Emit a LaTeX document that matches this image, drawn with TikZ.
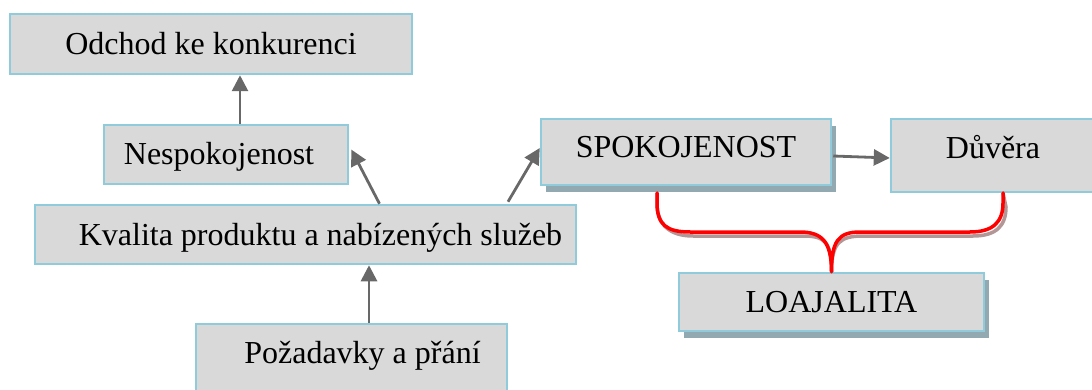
\documentclass[tikz,border=0pt]{standalone}
\usepackage{fontspec}
\setmainfont{Liberation Serif}
\usetikzlibrary{arrows.meta,shadows,calc}
\definecolor{boxfill}{HTML}{D9D9D9}
\definecolor{boxline}{HTML}{8FCBDB}
\definecolor{boxshade}{HTML}{93A9B1}
\definecolor{arrowgray}{HTML}{686868}
\definecolor{braceshade}{HTML}{B39696}
\begin{document}
\begin{tikzpicture}[x=1pt,y=-1pt,
  box/.style={draw=boxline, fill=boxfill, line width=2.5pt, inner sep=0pt,
    font=\fontsize{32}{38}\selectfont, text height=21pt, text depth=0pt},
  shaded/.style={drop shadow={shadow xshift=5pt, shadow yshift=-7pt,
    fill=boxshade, opacity=1}},
  arr/.style={draw=arrowgray, line width=2.8pt,
    -{Triangle[length=16pt,width=16pt]}},
  bracepath/.style={line width=3.5pt, line cap=round, line join=round}]
\clip (0,0) rectangle (1092,390);

% boxes
\node[box, minimum width=402pt, minimum height=60pt] (odchod) at (211,44) {Odchod ke konkurenci};
\node[box, minimum width=244pt, minimum height=59pt] (nesp) at (226,154.5) {Nespokojenost\hspace*{14pt}};
\node[box, minimum width=541pt, minimum height=59pt] (kval) at (305.5,234.5) {\hspace*{30pt}Kvalita produktu a nabízených služeb};
\node[box, minimum width=311pt, minimum height=88pt, text depth=30pt] (poz) at (351.5,368) {\hspace*{22pt}Požadavky a přání};
\node[box, shaded, minimum width=290pt, minimum height=66pt, text depth=10pt] (spok) at (686,152) {SPOKOJENOST};
\node[box, minimum width=208pt, minimum height=73pt, text depth=14pt] (duv) at (995,155.5) {Důvěra\hspace*{4pt}};
\node[box, shaded, minimum width=305pt, minimum height=58pt] (loaj) at (831.5,302) {LOAJALITA};

% arrows
\draw[arr] ([xshift=14pt]nesp.north) -- ([xshift=14pt]nesp.north |- odchod.south);
\draw[arr] ([xshift=74pt]kval.north) -- ([xshift=2pt,yshift=5pt]nesp.east);
\draw[arr] ([xshift=202.5pt,yshift=2pt]kval.north) -- ([yshift=4pt]spok.west);
\draw[arr] ([xshift=1pt,yshift=-4pt]spok.east) -- ([yshift=-2.5pt]duv.west);
\draw[arr] ([xshift=17.5pt]poz.north) -- ([xshift=17.5pt]poz.north |- kval.south);

% brace joining both boxes to the loyalty box
\coordinate (bl) at (657,193);
\coordinate (br) at (1003,193);
\coordinate (tip) at (loaj.north);
\foreach \dx/\dy/\col in {3/4/braceshade, 0/0/red} {
  \draw[bracepath, draw=\col, shift={(\dx,\dy)}]
    (bl) -- ++(0,10) .. controls ++(0,22) and (667,232) .. (690,232)
    -- (800,232) .. controls (822,232) and ($(tip)+(0,-30)$) .. (tip)
    .. controls ($(tip)+(0,-30)$) and (838,232) .. (860,232)
    -- (970,232) .. controls (993,232) and (1003,222) .. (1003,203) -- (br);
}
\end{tikzpicture}
\end{document}
